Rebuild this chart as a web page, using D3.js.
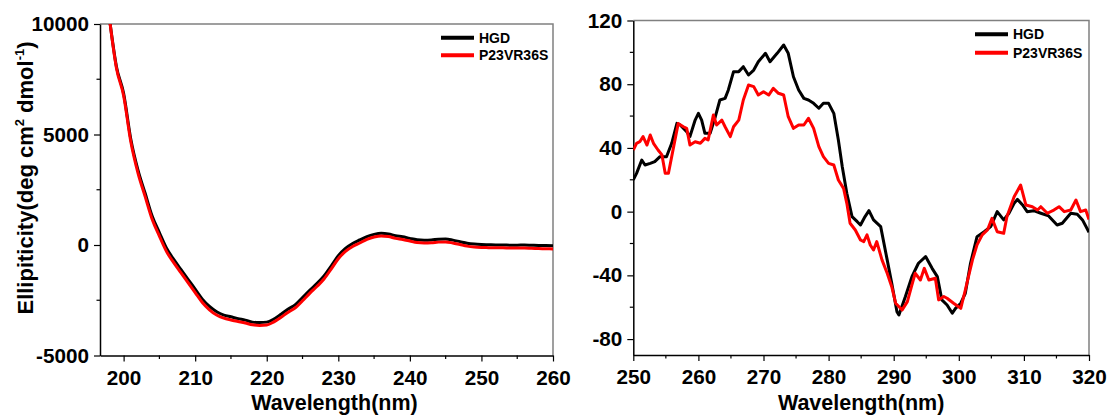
<!DOCTYPE html>
<html>
<head>
<meta charset="utf-8">
<script src="https://cdn.jsdelivr.net/npm/d3@7"></script>
<style>
  html, body { margin: 0; padding: 0; background: #fff; }
  svg { display: block; }
  text { font-family: "Liberation Sans", Arial, sans-serif; font-weight: bold; fill: #000; }
</style>
</head>
<body>
<svg id="chart" width="1119" height="417"></svg>
<script>
// ---- Far-UV CD spectra (left panel) ----
const farWavelength = [198,199,200,201,202,203,204,205,206,207,208,209,210,211,212,213,214,215,216,217,218,219,220,221,222,223,224,225,226,227,228,229,230,231,232,233,234,235,236,237,238,239,240,241,242,243,244,245,246,247,248,249,250,251,252,253,254,255,256,257,258,259,260];
const farHGD = [10300,8070,6860,4800,3400,2350,1300,560,-150,-650,-1100,-1550,-2000,-2450,-2780,-3020,-3170,-3250,-3330,-3400,-3490,-3510,-3490,-3350,-3130,-2900,-2700,-2380,-2050,-1750,-1400,-950,-480,-150,70,230,380,480,530,500,420,370,300,240,220,230,260,270,220,150,80,40,20,10,0,0,-10,-10,0,-10,-20,-20,-30];
const farMutant = [10300,8000,6760,4680,3260,2200,1150,400,-300,-800,-1250,-1700,-2150,-2600,-2930,-3170,-3310,-3390,-3460,-3530,-3610,-3640,-3620,-3480,-3270,-3040,-2840,-2520,-2190,-1880,-1540,-1090,-620,-290,-70,90,250,360,410,380,300,250,180,110,90,100,130,140,90,20,-50,-90,-110,-120,-130,-130,-140,-140,-140,-150,-160,-170,-180];

// ---- Near-UV CD spectra (right panel) ----
const nearWavelengthHGD = [250,250.5,251.3,251.8,252.6,253.3,254.1,255.1,255.9,256.7,257.2,258.2,258.7,259.5,260,260.5,261,261.8,262.6,263.3,264.1,264.6,265.4,266.2,266.9,267.7,268.5,269.2,270.3,271,272.1,273.1,273.8,274.6,275.4,276.2,276.9,277.7,278.5,279.2,280,280.8,281.5,282.1,282.8,283.6,284.4,284.9,285.6,286.2,286.9,288,289,289.7,290.5,290.8,291.8,292.8,293.8,294.9,295.9,296.7,297.4,298.2,299,299.5,300.3,301,301.8,302.8,303.9,304.9,305.9,306.9,307.7,308.5,309,309.8,310.5,311.5,312.6,313.8,315.1,315.9,317.2,318.2,319,320];
const nearHGD = [19.9,24,32.4,29.3,30.3,31.4,34.5,34.5,42.9,55.4,54.4,50.2,47.1,57.5,61.7,57.5,49.2,49.2,59.6,70.1,71.1,76.4,87.9,87.9,91,85.8,88.9,94.1,99.4,94.1,99.4,104.6,99.4,84.7,76.4,71.1,70.1,68,64.9,68,68,61.7,45,28.2,11.5,-3.1,-6.3,-8.4,-3.1,0.6,-5.2,-9.4,-30.3,-45,-62.8,-64.9,-53.3,-40.8,-32.4,-28.2,-35.6,-40.8,-55.4,-58.6,-63.8,-60.7,-57.5,-51.3,-32.4,-15.7,-12.6,-9.4,0,-5.2,-1,5.2,7.7,4.2,0,0.6,-1,-2.7,-8.4,-7.3,-1,-1.7,-5.2,-13];
const nearWavelengthMutant = [250,250.5,251,251.5,252.1,252.6,253.1,253.8,254.4,254.9,255.4,256.2,256.9,257.7,258.2,258.7,259.5,260.3,261,261.5,262.3,262.8,263.6,264.1,264.9,265.4,266.2,266.9,267.7,268.5,269.2,270,270.8,271.5,272.3,273.1,273.8,274.6,275.4,276.2,276.9,277.7,278.5,279.2,280,280.8,281.5,282.3,282.8,283.3,284.1,284.9,285.4,285.9,286.4,286.9,287.4,288.2,289,289.7,290.3,291.3,292.1,292.8,293.3,294.1,294.7,295.4,296.4,296.9,297.7,298.2,299.2,300.3,301,302.1,302.8,303.6,304.4,305.1,305.9,306.9,307.4,308.5,309.5,310.3,311.3,312.1,312.6,313.6,314.6,315.4,316.2,317.2,318,318.7,319.5,320];
const nearMutant = [38.7,42.9,43.9,47.1,41.8,48.1,42.9,38.7,35.6,24.1,24.1,40.8,55.4,53.3,52.3,41.8,43.9,42.9,46,45,60.7,54.4,57.5,53.3,47.1,53.3,57.5,70.1,79.5,78.5,73.2,75.3,73.2,77.4,74.3,73.2,59.6,52.3,54.4,54.4,58.6,52.3,40.8,34.5,30.3,29.3,19.9,14.6,5.2,-7.3,-11.5,-17.8,-18.8,-14.6,-20.9,-24.1,-18.8,-30.3,-38.7,-47.1,-57.5,-61.7,-56.5,-46,-38.7,-42.9,-35.6,-42.9,-41.8,-55.4,-53.3,-54.4,-57.5,-60.7,-49.2,-30.3,-20.9,-14.6,-11.5,-4.2,-12.6,-13.6,-3.1,9.4,16.7,4.2,3.1,1,3.1,-1,1,3.1,0,1,7.3,0,1,-5];

// ---- Axis ticks and labels ----
const farXTicks = [200,210,220,230,240,250,260];
const farYTicks = [-5000,0,5000,10000];
const nearXTicks = [250,260,270,280,290,300,310,320];
const nearYTicks = [-80,-40,0,40,80,120];
const seriesNames = ["HGD","P23VR36S"];
const seriesColors = ["#000000","#ff0000"];

const svg = d3.select("#chart");
const plainNumber = d => String(d);   // hyphen minus, no thousands separator

function panel(cfg) {
  const g = svg.append("g");
  const x = d3.scaleLinear().domain(cfg.xDomain).range([cfg.left, cfg.right]);
  const y = d3.scaleLinear().domain(cfg.yDomain).range([cfg.bottom, cfg.top]);

  const clipId = "clip-" + cfg.id;
  svg.append("defs").append("clipPath").attr("id", clipId)
    .append("rect").attr("x", cfg.left).attr("y", cfg.top)
    .attr("width", cfg.right - cfg.left).attr("height", cfg.bottom - cfg.top);

  // grey frame on top and right
  g.append("path")
    .attr("d", `M${cfg.left},${cfg.top}H${cfg.right}V${cfg.bottom}`)
    .attr("fill", "none").attr("stroke", "#808080").attr("stroke-width", 1.5);

  // minor ticks
  const xMinor = d3.range(Math.ceil(cfg.xDomain[0] / cfg.xMinorStep) * cfg.xMinorStep, cfg.xDomain[1] + 1e-6, cfg.xMinorStep)
    .filter(v => !cfg.xTicks.includes(v));
  const yMinor = d3.range(Math.ceil(cfg.yDomain[0] / cfg.yMinorStep) * cfg.yMinorStep, cfg.yDomain[1] + 1e-6, cfg.yMinorStep)
    .filter(v => !cfg.yTicks.includes(v));

  const xAxis = g.append("g").attr("transform", `translate(0,${cfg.bottom})`)
    .call(d3.axisBottom(x).tickValues(cfg.xTicks).tickFormat(plainNumber)
      .tickSize(6).tickPadding(8.5).tickSizeOuter(0));
  xAxis.append("g").selectAll("line").data(xMinor).join("line")
    .attr("x1", d => x(d)).attr("x2", d => x(d)).attr("y1", 0).attr("y2", 3.5)
    .attr("stroke", "#000").attr("stroke-width", 1.2);

  const yAxis = g.append("g").attr("transform", `translate(${cfg.left},0)`)
    .call(d3.axisLeft(y).tickValues(cfg.yTicks).tickFormat(plainNumber)
      .tickSize(6).tickPadding(5).tickSizeOuter(0));
  yAxis.append("g").selectAll("line").data(yMinor).join("line")
    .attr("y1", d => y(d)).attr("y2", d => y(d)).attr("x1", 0).attr("x2", -3.5)
    .attr("stroke", "#000").attr("stroke-width", 1.2);

  [xAxis, yAxis].forEach(a => {
    a.select(".domain").attr("stroke", "#000").attr("stroke-width", 1.5);
    a.selectAll(".tick line").attr("stroke", "#000").attr("stroke-width", 1.2);
    a.selectAll("text").attr("font-size", 20.7).attr("font-weight", "bold")
      .attr("font-family", '"Liberation Sans", Arial, sans-serif').attr("fill", "#000");
  });

  // spectra
  const plot = g.append("g").attr("clip-path", `url(#${clipId})`);
  cfg.series.forEach((s, i) => {
    const pts = s.w.map((w, k) => [w, s.v[k]]);
    plot.append("path").datum(pts)
      .attr("fill", "none").attr("stroke", seriesColors[i])
      .attr("stroke-width", 3).attr("stroke-linejoin", "round")
      .attr("d", d3.line().x(d => x(d[0])).y(d => y(d[1])).curve(cfg.curve));
  });

  // legend
  seriesNames.forEach((name, i) => {
    const ly = cfg.legendY + i * cfg.legendGap;
    g.append("line").attr("x1", cfg.legendX).attr("x2", cfg.legendX + 33)
      .attr("y1", ly).attr("y2", ly).attr("stroke", seriesColors[i]).attr("stroke-width", 4);
    g.append("text").attr("x", cfg.legendX + 38).attr("y", ly)
      .attr("dy", "0.35em").attr("font-size", 14).text(name);
  });

  // x title
  g.append("text").attr("x", (cfg.left + cfg.right) / 2 + cfg.titleShift).attr("y", 410)
    .attr("text-anchor", "middle").attr("font-size", 21.5).text("Wavelength(nm)");
}

panel({
  id: "far", left: 100, right: 553, top: 24, bottom: 355.5,
  xDomain: [196.7, 260], yDomain: [-5000, 10000],
  xTicks: farXTicks, yTicks: farYTicks, xMinorStep: 5, yMinorStep: 2500,
  curve: d3.curveMonotoneX,
  series: [{w: farWavelength, v: farHGD}, {w: farWavelength, v: farMutant}],
  legendX: 441, legendY: 37.7, legendGap: 17.6, titleShift: 8
});

panel({
  id: "near", left: 633.3, right: 1089, top: 20.5, bottom: 355,
  xDomain: [250, 320], yDomain: [-90, 120],
  xTicks: nearXTicks, yTicks: nearYTicks, xMinorStep: 5, yMinorStep: 20,
  curve: d3.curveLinear,
  series: [{w: nearWavelengthHGD, v: nearHGD}, {w: nearWavelengthMutant, v: nearMutant}],
  legendX: 975, legendY: 34.3, legendGap: 18.4, titleShift: 0
});

// y title of the far-UV panel
const yTitle = svg.append("text")
  .attr("transform", "translate(33,178) rotate(-90)")
  .attr("text-anchor", "middle").attr("font-size", 22);
yTitle.append("tspan").text("Ellipiticity(deg cm");
yTitle.append("tspan").attr("font-size", 13).attr("dy", -9).text("2");
yTitle.append("tspan").attr("dy", 9).text(" dmol");
yTitle.append("tspan").attr("font-size", 13).attr("dy", -9).text("-1");
yTitle.append("tspan").attr("dy", 9).text(")");
</script>
</body>
</html>
